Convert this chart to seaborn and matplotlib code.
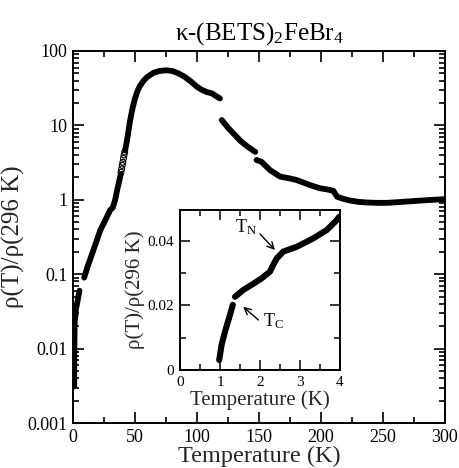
import numpy as np
import pandas as pd
import matplotlib
matplotlib.use("Agg")
import matplotlib.pyplot as plt
import seaborn as sns
from matplotlib.ticker import MultipleLocator, LogLocator, NullFormatter, FixedLocator, FixedFormatter

# ---------------- data ----------------
# main panel, low-temperature segment (same data as inset, extended)
low_T   = [1.0, 1.05, 1.13, 1.25, 1.32, 1.37, 1.6, 2.0, 2.4, 3.0, 3.5, 4.0, 4.6, 5.2]
low_rho = [0.0031, 0.0078, 0.012, 0.017, 0.020, 0.023, 0.025, 0.028, 0.035, 0.038, 0.042, 0.047, 0.053, 0.06]

seg_b_T   = [9, 12, 15, 18, 22, 26, 30, 32, 34, 36, 38.5]
seg_b_rho = [0.09, 0.13, 0.18, 0.25, 0.39, 0.53, 0.73, 0.78, 1.0, 1.45, 2.2]

sparse_T   = [38.7, 39.2, 39.7, 40.2, 40.7, 41.2, 41.7]
sparse_rho = [2.35, 2.6, 2.9, 3.2, 3.6, 4.0, 4.4]

seg_c_T   = [42, 43, 44, 45, 46, 47, 48, 50, 52, 54, 57, 60, 65, 70, 75, 80, 85, 90, 95, 100, 104, 108, 112, 115, 118.5]
seg_c_rho = [4.6, 5.6, 7.0, 9.0, 11.5, 14, 17, 23, 29, 34, 40, 45, 51, 54, 55, 54, 50, 45, 39, 33, 30, 28, 27, 25, 23]

seg_d_T   = [120, 125, 130, 135, 140, 147]
seg_d_rho = [11.8, 9.3, 7.6, 6.2, 5.3, 4.4]

seg_e_T   = [148, 152, 159, 167, 174, 180, 186, 191, 199, 205, 210, 211.5, 213, 218, 223, 230, 237, 245, 253, 262, 274, 286, 300]
seg_e_rho = [3.43, 3.24, 2.5, 2.05, 1.95, 1.85, 1.7, 1.58, 1.43, 1.38, 1.32, 1.2, 1.1, 1.03, 0.98, 0.94, 0.92, 0.91, 0.91, 0.93, 0.96, 0.99, 1.02]

# inset
inset1_T   = [0.98, 1.04, 1.125, 1.25, 1.32]
inset1_rho = [0.0031, 0.0078, 0.0119, 0.0171, 0.0202]
inset2_T   = [1.375, 1.58, 1.79, 2.04, 2.25, 2.33, 2.42, 2.58, 2.92, 3.33, 3.67, 3.92, 3.98]
inset2_rho = [0.0227, 0.0248, 0.0264, 0.0284, 0.0305, 0.0326, 0.0346, 0.0367, 0.0382, 0.0408, 0.0434, 0.0465, 0.0475]

main_yticks = [0.001, 0.01, 0.1, 1, 10, 100]
main_yticklabels = ["0.001", "0.01", "0.1", "1", "10", "100"]
inset_yticks = [0, 0.02, 0.04]
inset_yticklabels = ["0", "0.02", "0.04"]

# ---------------- style ----------------
sns.set_style("ticks")
plt.rcParams.update({
    "font.family": ["Liberation Serif", "DejaVu Serif"],
    "mathtext.fontset": "custom",
    "mathtext.rm": "Liberation Serif",
    "mathtext.it": "Liberation Serif:italic",
    "axes.linewidth": 1.4,
    "axes.edgecolor": "black",
    "xtick.color": "black",
    "ytick.color": "black",
    "text.color": "black",
})

def build(segs):
    frames = []
    for i, (t, r) in enumerate(segs):
        frames.append(pd.DataFrame({"T": t, "rho": r, "seg": i}))
    return pd.concat(frames, ignore_index=True)

main_df = build([(low_T, low_rho), (seg_b_T, seg_b_rho), (seg_c_T, seg_c_rho),
                 (seg_d_T, seg_d_rho), (seg_e_T, seg_e_rho)])
sparse_df = pd.DataFrame({"T": sparse_T, "rho": sparse_rho})
inset_df = build([(inset1_T, inset1_rho), (inset2_T, inset2_rho)])

fig = plt.figure(figsize=(4.59, 4.68), dpi=100)
ax = fig.add_axes([73/459, 1-423/468, 372/459, 372/468])
ax.set_yscale("log")

sns.lineplot(data=main_df, x="T", y="rho", units="seg", estimator=None, sort=False,
             color="black", lw=4.2, solid_capstyle="round", ax=ax)
sns.scatterplot(data=sparse_df, x="T", y="rho", marker="o", s=18,
                facecolors="none", edgecolor="black", linewidth=0.8, ax=ax)

ax.set_xlim(0, 300)
ax.set_ylim(0.001, 100)
ax.xaxis.set_major_locator(MultipleLocator(50))
ax.xaxis.set_minor_locator(MultipleLocator(25))
ax.yaxis.set_major_locator(FixedLocator(main_yticks))
ax.yaxis.set_major_formatter(FixedFormatter(main_yticklabels))
ax.yaxis.set_minor_locator(LogLocator(base=10, subs=np.arange(2, 10)))
ax.yaxis.set_minor_formatter(NullFormatter())
ax.tick_params(which="both", direction="in", top=True, right=True, width=1.2, labelsize=13, pad=4)
ax.tick_params(which="major", length=8)
ax.tick_params(which="minor", length=4.5)
ax.set_xlabel("Temperature (K)", fontsize=17.5, labelpad=0)
ax.set_ylabel("ρ(T)/ρ(296 K)", fontsize=18, labelpad=2)
ax.set_title("κ-(BETS)$_2$FeBr$_4$", fontsize=18, pad=8)

# ---------------- inset ----------------
ins = fig.add_axes([180/459, 1-370/468, 160/459, 160/468])
sns.lineplot(data=inset_df, x="T", y="rho", units="seg", estimator=None, sort=False,
             color="black", lw=4.4, solid_capstyle="round", ax=ins)
ins.set_xlim(0, 4)
ins.set_ylim(0, 0.0496)
ins.xaxis.set_major_locator(MultipleLocator(1))
ins.xaxis.set_minor_locator(MultipleLocator(0.5))
ins.yaxis.set_major_locator(FixedLocator(inset_yticks))
ins.yaxis.set_major_formatter(FixedFormatter(inset_yticklabels))
ins.yaxis.set_minor_locator(MultipleLocator(0.01))
ins.tick_params(which="both", direction="in", top=True, right=True, width=1.1, labelsize=11, pad=4)
ins.tick_params(which="major", length=7)
ins.tick_params(which="minor", length=4)
ins.set_xlabel("Temperature (K)", fontsize=15, labelpad=1)
ins.set_ylabel("ρ(T)/ρ(296 K)", fontsize=15, labelpad=2)

arrow = dict(arrowstyle="->", color="black", lw=1.0, shrinkA=0, shrinkB=0,
             mutation_scale=12)
ins.annotate("", xy=(2.375, 0.0372), xytext=(2.0, 0.0422), arrowprops=arrow)
ins.text(1.375, 0.0428, "T$_\\mathrm{N}$", fontsize=13, ha="left", va="baseline")
ins.annotate("", xy=(1.58, 0.0196), xytext=(1.96, 0.0155), arrowprops=arrow)
ins.text(2.08, 0.0136, "T$_\\mathrm{C}$", fontsize=13, ha="left", va="baseline")

fig.savefig("out.png", dpi=100)
